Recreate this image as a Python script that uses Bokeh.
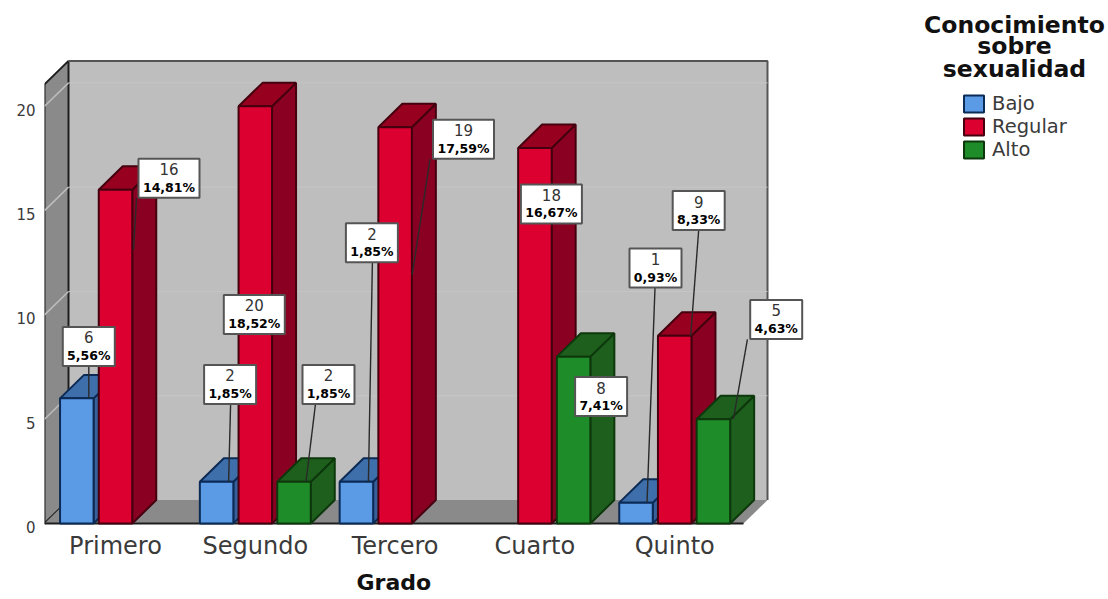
from bokeh.plotting import figure
from bokeh.models import ColumnDataSource, Range1d, FixedTicker, Legend, LegendItem, Title, LinearAxis
from bokeh.core.properties import value
from bokeh.embed import file_html
from bokeh.resources import INLINE

# ---------- data ----------
categories = ["Primero", "Segundo", "Tercero", "Cuarto", "Quinto"]
bajo = [6, 2, 2, 0, 1]
regular = [16, 20, 19, 18, 9]
alto = [0, 2, 0, 8, 5]
bajo_pct = ["5,56%", "1,85%", "1,85%", "", "0,93%"]
regular_pct = ["14,81%", "18,52%", "17,59%", "16,67%", "8,33%"]
alto_pct = ["", "1,85%", "", "7,41%", "4,63%"]
series_names = ["Bajo", "Regular", "Alto"]
y_ticks = [0, 5, 10, 15, 20]
legend_title = ["Conocimiento", "sobre", "sexualidad"]
x_title = "Grado"

# ---------- styles / layout ----------
colors = [
    dict(front="#5B9BE6", top="#3F6FAB", side="#38609A", edge="#0B2A55"),
    dict(front="#DC0030", top="#98001F", side="#8A0022", edge="#45000F"),
    dict(front="#1F8C2A", top="#1E5F1E", side="#1E5F1E", edge="#0C380C"),
]
W, H = 1108, 599
L_PX, B_PX = 44, 524          # page pixel of the front-left-bottom corner
FRAME_B_PX = 530              # frame reaches a little below the value 0
PX_X, PX_Y = 139.8, 20.9      # pixels per unit
X0_PX = 115                   # page pixel of category 0
SLOT = 38.7 / PX_X
BAR = 33.5 / PX_X
DX, DY = 24 / PX_X, 23.5 / PX_Y
x_lo = (L_PX - X0_PX) / PX_X
x_hi = (W - X0_PX) / PX_X
x_front_end = (743 - X0_PX) / PX_X
y_top_front = (B_PX - 84) / PX_Y
y_hi = B_PX / PX_Y
y_lo = (B_PX - FRAME_B_PX) / PX_Y
LABEL_SHIFT = 3.5 / PX_Y      # tick labels sit a little below their grid lines

p = figure(width=W, height=H, output_backend="svg", toolbar_location=None,
           x_range=Range1d(x_lo, x_hi), y_range=Range1d(y_lo, y_hi),
           y_axis_location=None,
           min_border_left=L_PX, min_border_right=0,
           min_border_top=0, min_border_bottom=H - FRAME_B_PX,
           outline_line_color=None, background_fill_color="white")
p.grid.visible = False
p.extra_y_ranges = {"labels": Range1d(y_lo + LABEL_SHIFT, y_hi + LABEL_SHIFT)}

# ---------- axes ----------
FONT = value("DejaVu Sans")
yaxis = LinearAxis(y_range_name="labels", ticker=FixedTicker(ticks=y_ticks))
yaxis.axis_line_color = None
yaxis.major_tick_line_color = None
yaxis.minor_tick_line_color = None
yaxis.major_tick_out = 0
yaxis.major_label_text_font = "DejaVu Sans"
yaxis.major_label_text_font_size = "15px"
yaxis.major_label_text_color = "#3a3a3a"
yaxis.major_label_standoff = 9
p.add_layout(yaxis, "left")

p.xaxis.ticker = FixedTicker(ticks=list(range(len(categories))))
p.xaxis.major_label_overrides = {i: c for i, c in enumerate(categories)}
p.xaxis.axis_line_color = None
p.xaxis.major_tick_line_color = None
p.xaxis.minor_tick_line_color = None
p.xaxis.major_tick_out = 0
p.xaxis.major_label_text_font = "DejaVu Sans"
p.xaxis.major_label_text_font_size = "24px"
p.xaxis.major_label_text_color = "#3a3a3a"
p.xaxis.major_label_standoff = 2

p.add_layout(Title(text=x_title, align="left", offset=356 - L_PX, standoff=10,
                   vertical_align="bottom",
                   text_font="DejaVu Sans", text_font_style="bold", text_font_size="22px",
                   text_color="#111111"), "below")

# ---------- walls ----------
wall_dark = "#1e1e1e"
p.patch([x_lo + DX, x_front_end + DX, x_front_end + DX, x_lo + DX],
        [DY, DY, y_top_front + DY, y_top_front + DY],
        fill_color="#BEBEBE", line_color=None)
p.patch([x_lo, x_lo + DX, x_lo + DX, x_lo],
        [0, DY, y_top_front + DY, y_top_front],
        fill_color="#8A8A8A", line_color=wall_dark, line_width=2)
p.patch([x_lo, x_front_end, x_front_end + DX, x_lo + DX],
        [0, 0, DY, DY],
        fill_color="#8A8A8A", line_color=None)
p.line([x_lo + DX, x_front_end + DX, x_front_end + DX],
       [y_top_front + DY, y_top_front + DY, DY],
       line_color="#555555", line_width=2)
p.line([x_lo, x_front_end], [0, 0], line_color=wall_dark, line_width=2)

for t in y_ticks[1:]:
    p.line([x_lo + DX, x_front_end + DX], [t + DY, t + DY], line_color="#C6C6C6", line_width=1)
    p.line([x_lo, x_lo + DX], [t, t + DY], line_color="#BDBDBD", line_width=1.5)

# ---------- 3-D bars ----------
all_values = [bajo, regular, alto]
legend_items = []
for s, vals in enumerate(all_values):
    c = colors[s]
    xs = [i + (s - 1) * SLOT for i, v in enumerate(vals) if v > 0]
    ys = [v for v in vals if v > 0]
    left = [x - BAR / 2 for x in xs]
    right = [x + BAR / 2 for x in xs]
    p.patches([[r, r + DX, r + DX, r] for r in right],
              [[0, DY, y + DY, y] for y in ys],
              fill_color=c["side"], line_color=c["edge"], line_width=2)
    p.patches([[l, r, r + DX, l + DX] for l, r in zip(left, right)],
              [[y, y, y + DY, y + DY] for y in ys],
              fill_color=c["top"], line_color=c["edge"], line_width=2)
    q = p.quad(left=left, right=right, bottom=[0] * len(ys), top=ys,
               fill_color=c["front"], line_color=c["edge"], line_width=2)
    legend_items.append(LegendItem(label=series_names[s], renderers=[q]))

# ---------- callouts: offsets in pixels from the top-centre of the bar ----------
callouts = {
    (0, 0): ((12, -52), (12, -32), (12, 0)),
    (1, 0): ((53.5, -11.6), (21, 8.4), (18, 60)),
    (0, 1): ((13.5, -97.5), (14, -78), (12, 0)),
    (1, 1): ((-1, 208.5), None, None),
    (2, 1): ((34.5, -97.5), (21.5, -78), (12, 0)),
    (0, 2): ((15.5, -239.5), (16, -220), (12, 0)),
    (1, 2): ((68.4, 12), (35, 32), (17, 148)),
    (1, 3): ((16.5, 56), None, None),
    (2, 3): ((27.5, 40), None, None),
    (0, 4): ((19.5, -235), (19, -215), (11, 0)),
    (1, 4): ((24, -125.5), (24, -106), (16, 0)),
    (2, 4): ((62.8, -100), (34, -80), (20, 0)),
}
all_pct = [bajo_pct, regular_pct, alto_pct]
for (s, i), (box, start, end) in callouts.items():
    ax = i + (s - 1) * SLOT
    ay = all_values[s][i]
    if start:
        p.line([ax + start[0] / PX_X, ax + end[0] / PX_X],
               [ay - start[1] / PX_Y, ay - end[1] / PX_Y],
               line_color="#2a2a2a", line_width=1.4)
cx, cy, bw, counts, pcts = [], [], [], [], []
for (s, i), (box, start, end) in callouts.items():
    cx.append(i + (s - 1) * SLOT + box[0] / PX_X)
    cy.append(all_values[s][i] - box[1] / PX_Y)
    pcts.append(all_pct[s][i])
    counts.append(str(all_values[s][i]))
    bw.append((61 if len(all_pct[s][i]) > 5 else 52))
src = ColumnDataSource(dict(x=cx, y=cy, w=bw, count=counts, pct=pcts))
p.rect("x", "y", width="w", height=39, width_units="screen", height_units="screen",
       source=src, fill_color="white", line_color="#555555", line_width=2)
p.text("x", "y", text="count", source=src, text_font=FONT, text_font_size="15px",
       text_color="#333333", text_align="center", text_baseline="middle", y_offset=-9)
p.text("x", "y", text="pct", source=src, text_font=FONT, text_font_style="bold",
       text_font_size="12.5px", text_color="#000000", text_align="center",
       text_baseline="middle", y_offset=9)

# ---------- legend ----------
leg_x = (1014 - X0_PX) / PX_X
leg_y = [(B_PX - py) / PX_Y for py in (25, 46, 69)]
p.text(x=[leg_x] * 3, y=leg_y, text=legend_title, text_font=FONT, text_font_style="bold",
       text_font_size="23.5px", text_color="#111111", text_align="center",
       text_baseline="alphabetic")
legend = Legend(items=legend_items, location=(961 - L_PX, FRAME_B_PX - 162),
                glyph_width=25, glyph_height=21, spacing=0, label_standoff=6,
                label_text_font="DejaVu Sans", label_text_font_size="19.5px",
                label_text_color="#3a3a3a", label_height=18, margin=0, padding=0,
                background_fill_alpha=0, border_line_color=None)
p.add_layout(legend, "center")

open("out.html", "w").write(file_html(p, INLINE))
